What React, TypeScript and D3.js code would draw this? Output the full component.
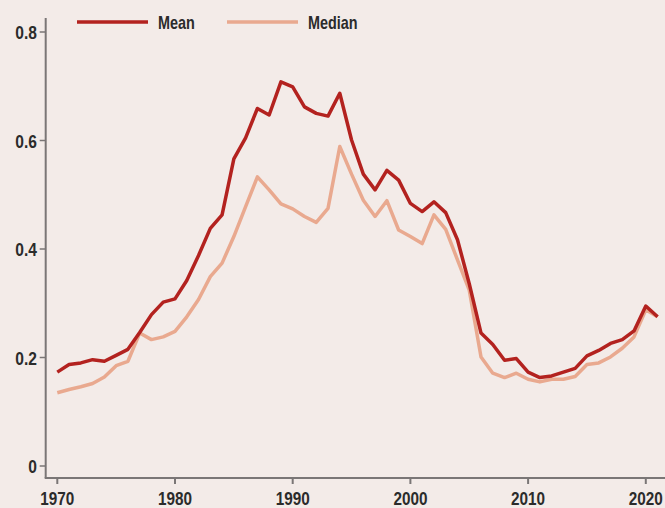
import React from "react";
import * as d3 from "d3";

const years = d3.range(1970, 2022);
const meanValues = [
  0.173, 0.187, 0.19, 0.196, 0.193, 0.204, 0.215, 0.246, 0.279, 0.302,
  0.308, 0.342, 0.388, 0.438, 0.463, 0.566, 0.605, 0.659, 0.647, 0.708,
  0.699, 0.662, 0.65, 0.645, 0.687, 0.601, 0.538, 0.509, 0.545, 0.527,
  0.484, 0.469, 0.487, 0.467, 0.417, 0.336, 0.245, 0.224, 0.195, 0.198,
  0.173, 0.163, 0.166, 0.173, 0.18, 0.203, 0.213, 0.226, 0.233, 0.249,
  0.295, 0.275,
];
const medianValues = [
  0.135, 0.141, 0.146, 0.152, 0.164, 0.185, 0.193, 0.245, 0.233, 0.238,
  0.248, 0.275, 0.307, 0.349, 0.374, 0.423, 0.478, 0.533, 0.509, 0.483,
  0.474, 0.46, 0.449, 0.475, 0.589, 0.538, 0.49, 0.46, 0.489, 0.435,
  0.423, 0.41, 0.463, 0.436, 0.38, 0.324, 0.201, 0.171, 0.163, 0.171,
  0.16, 0.155, 0.16, 0.16, 0.165, 0.187, 0.19, 0.201, 0.217, 0.238,
  0.288, 0.275,
];
const yTicks = [0, 0.2, 0.4, 0.6, 0.8];
const yTickLabels = ["0", "0.2", "0.4", "0.6", "0.8"];
const xTicks = [1970, 1980, 1990, 2000, 2010, 2020];
const seriesNames = ["Mean", "Median"];

const W = 665;
const H = 508;
const BG = "#f3ebe8";
const MEAN_C = "#b3221f";
const MEDIAN_C = "#e9a98f";
const AXIS_C = "#7a7676";
const TEXT_C = "#2b2b2b";
const FONT = "'Liberation Sans', Arial, sans-serif";

function CText(props: {
  x: number;
  y: number;
  size: number;
  anchor?: string;
  sx?: number;
  children: React.ReactNode;
}) {
  const { x, y, size, anchor = "start", sx = 0.8, children } = props;
  return (
    <text
      transform={`translate(${x},${y}) scale(${sx},1)`}
      textAnchor={anchor}
      fontFamily={FONT}
      fontWeight="bold"
      fontSize={size}
      fill={TEXT_C}
    >
      {children}
    </text>
  );
}

export default function App() {
  const x = d3.scaleLinear().domain([1970, 2020]).range([57.3, 645.8]);
  const y = d3.scaleLinear().domain([0, 0.8]).range([466, 32]);
  const line = d3
    .line<number>()
    .x((_, i) => x(years[i]))
    .y((d) => y(d))
    .curve(d3.curveLinear);

  const axisX = 45.7;
  const axisY = 478;

  return (
    <div style={{ position: "fixed", left: 0, top: 0, width: W, height: H }}>
      <svg width={W} height={H} style={{ display: "block" }}>
        <rect width={W} height={H} fill={BG} />
        <line x1={axisX} x2={axisX} y1={18} y2={axisY} stroke={AXIS_C} strokeWidth={2} />
        <line x1={axisX - 1} x2={W} y1={axisY} y2={axisY} stroke={AXIS_C} strokeWidth={2} />
        {yTicks.map((t, i) => (
          <g key={t}>
            <line x1={axisX - 6} x2={axisX} y1={y(t)} y2={y(t)} stroke={AXIS_C} strokeWidth={1.5} />
            <CText x={37} y={y(t) + 7} size={19} anchor="end" sx={0.82}>
              {yTickLabels[i]}
            </CText>
          </g>
        ))}
        {xTicks.map((t) => (
          <g key={t}>
            <line x1={x(t)} x2={x(t)} y1={axisY} y2={axisY + 6} stroke={AXIS_C} strokeWidth={2} />
            <CText x={x(t)} y={505} size={18} anchor="middle" sx={0.85}>
              {t}
            </CText>
          </g>
        ))}
        <path d={line(medianValues) || ""} fill="none" stroke={MEDIAN_C} strokeWidth={3.5} strokeLinejoin="round" />
        <path d={line(meanValues) || ""} fill="none" stroke={MEAN_C} strokeWidth={3.5} strokeLinejoin="round" />
        {seriesNames.map((name, i) => {
          const lx = 77 + i * 150;
          return (
            <g key={name}>
              <line x1={lx} x2={lx + 71} y1={22} y2={22} stroke={i === 0 ? MEAN_C : MEDIAN_C} strokeWidth={3.5} />
              <CText x={lx + 81} y={29} size={18} sx={0.8}>
                {name}
              </CText>
            </g>
          );
        })}
      </svg>
    </div>
  );
}
